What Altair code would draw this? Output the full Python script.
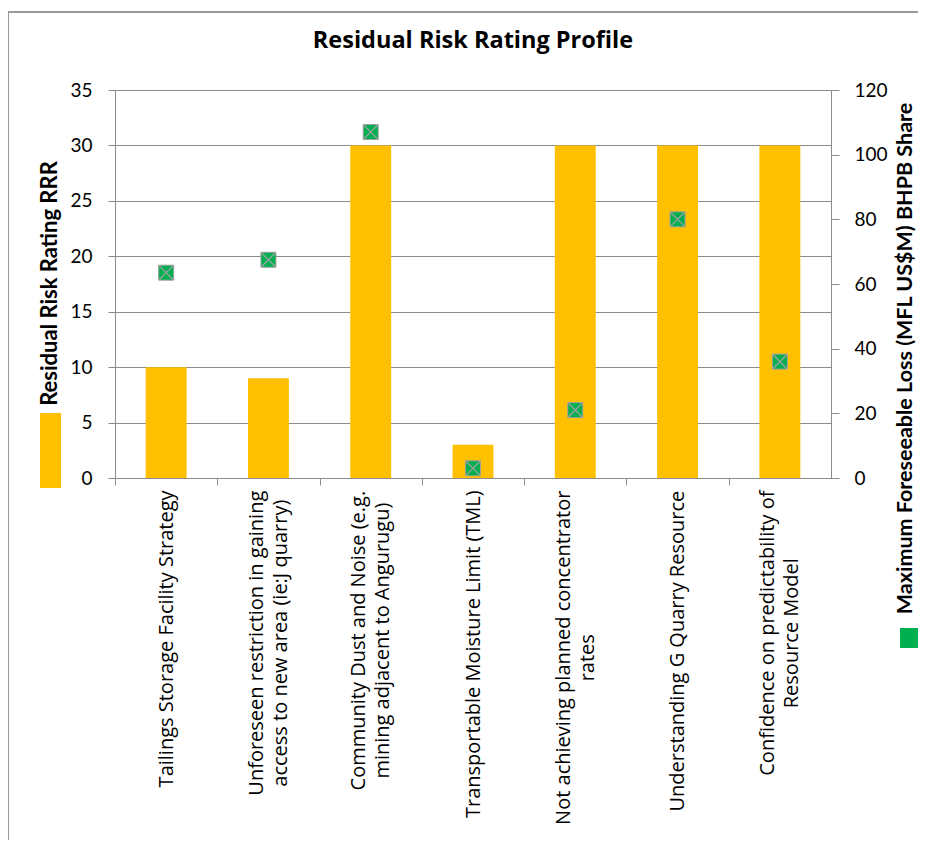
import json
import altair as alt
import pandas as pd

categories = [
    "Tailings Storage Facility Strategy",
    "Unforeseen restriction in gaining\naccess to new area (ie:J quarry)",
    "Community Dust and Noise (e.g.\nmining adjacent to Angurugu)",
    "Transportable Moisture Limit (TML)",
    "Not achieving planned concentrator\nrates",
    "Understanding G Quarry Resource",
    "Confidence on predictability of\nResource Model",
]
rrr = [10, 9, 30, 3, 30, 30, 30]
mfl = [63.5, 67.5, 107, 3, 21, 80, 36]

left_ticks = [0, 5, 10, 15, 20, 25, 30, 35]
right_ticks = [0, 20, 40, 60, 80, 100, 120]

df = pd.DataFrame({"risk": categories, "rrr": rrr, "mfl": mfl})
one = alt.Data(values=[{"k": 1}])

FONT = "Lato"
BOLD_FONT = "Open Sans"
LABEL_FONT = "Open Sans"
LABEL_SIZE = 20
GREY = "#8c8c8c"
W, H = 716, 388
step = W / len(categories)

# approximate Open Sans advance widths (em), used only to place the centred, wrapped labels
_w = {" ": .26, "(": .295, ")": .295, ".": .266, ":": .266, "a": .556, "b": .613, "c": .476,
      "d": .613, "e": .561, "f": .339, "g": .548, "h": .614, "i": .253, "j": .253, "k": .525,
      "l": .253, "m": .93, "n": .614, "o": .604, "p": .613, "q": .613, "r": .408, "s": .477,
      "t": .353, "u": .614, "v": .501, "w": .778, "x": .524, "y": .502, "z": .477,
      "A": .633, "B": .65, "C": .631, "D": .722, "E": .556, "F": .5, "G": .728, "H": .75,
      "I": .28, "J": .273, "L": .52, "M": .89, "N": .76, "O": .78, "P": .6, "Q": .78,
      "R": .623, "S": .55, "T": .55, "U": .738}


def label_width(label):
    return max(sum(_w.get(ch, .58) for ch in line) for line in label.split("\n")) * LABEL_SIZE


BASE_PAD = 5
pad_rules = [
    {"test": "datum.value == " + json.dumps(c), "value": BASE_PAD + label_width(c) / 2}
    for c in categories
]

x_enc = alt.X(
    "risk:N", sort=categories,
    scale=alt.Scale(paddingInner=0.6, paddingOuter=0.3),
    axis=alt.Axis(
        title=None, labelAngle=270, labelExpr="split(datum.label, '\\n')",
        labelAlign="center", labelBaseline="middle",
        labelFont=LABEL_FONT, labelFontSize=LABEL_SIZE, labelColor="black", labelLineHeight=24,
        labelLimit=600, tickOffset=-step / 2,
        labelOffset={"condition": {"test": "indexof(datum.value, '\\n') >= 0",
                                   "value": step / 2 - 12},
                     "value": step / 2},
        labelPadding={"condition": pad_rules, "value": BASE_PAD},
        tickSize=7, tickColor=GREY, domainColor=GREY,
    ),
)

bars = alt.Chart(df).mark_bar(color="#FFC000").encode(
    x=x_enc,
    y=alt.Y(
        "rrr:Q", scale=alt.Scale(domain=[0, 35]),
        axis=alt.Axis(
            values=left_ticks, grid=True, gridColor=GREY, tickColor=GREY, domainColor=GREY,
            tickSize=7, labelPadding=16, labelFont=FONT, labelFontSize=19, labelColor="black",
            title="Residual Risk Rating RRR", titleFont=FONT, titleFontSize=22,
            titleFontWeight="bold", titleColor="black", titleAngle=270,
            titleX=-66, titleY=193, titleAlign="center", titleBaseline="middle",
        ),
    ),
)

y_right = alt.Y(
    "mfl:Q", scale=alt.Scale(domain=[0, 120]),
    axis=alt.Axis(
        orient="right", values=right_ticks, grid=False, tickColor=GREY, domainColor=GREY,
        tickSize=8, labelPadding=15, labelFont=FONT, labelFontSize=19, labelColor="black",
        title="Maximum Foreseeable Loss (MFL US$M) BHPB Share", titleFont=FONT,
        titleFontSize=21.5, titleFontWeight="bold", titleColor="black", titleAngle=270,
        titleX=74, titleY=268, titleAlign="center", titleBaseline="middle",
    ),
)

sq = alt.Chart(df).mark_point(
    shape="square", filled=True, size=225, color="#00B050", stroke="#a0a0a0",
    strokeWidth=1, opacity=1,
).encode(x=alt.X("risk:N", sort=categories), y=y_right)

xm = alt.Chart(df).mark_point(
    shape="M-1,-1L1,1M-1,1L1,-1", filled=False, size=200, color="#a0a0a0",
    strokeWidth=1.3, opacity=1,
).encode(x=alt.X("risk:N", sort=categories), y=y_right)

points = alt.layer(sq, xm)

border = alt.Chart(one).mark_rect(fillOpacity=0, stroke="#999999", strokeWidth=2).encode(
    x=alt.value(-107), x2=alt.value(2000), y=alt.value(-78), y2=alt.value(2000)
)
title = alt.Chart(one).mark_text(
    text="Residual Risk Rating Profile", font=BOLD_FONT, fontSize=23.5, fontWeight="bold",
    color="black", align="center", baseline="alphabetic",
).encode(x=alt.value(W / 2), y=alt.value(-42))
sw_left = alt.Chart(one).mark_rect(color="#FFC000").encode(
    x=alt.value(-75), x2=alt.value(-54), y=alt.value(323), y2=alt.value(398)
)
sw_right = alt.Chart(one).mark_rect(color="#00B050").encode(
    x=alt.value(785), x2=alt.value(803), y=alt.value(538), y2=alt.value(558)
)

chart = alt.layer(border, title, bars, points, sw_left, sw_right).resolve_scale(
    y="independent"
).properties(
    width=W, height=H,
    autosize=alt.AutoSizeParams(type="none"),
    padding={"left": 107, "top": 82, "right": 87, "bottom": 362},
).configure_view(stroke=None).configure(background="white")

chart.save("out.html", embed_options={"renderer": "svg", "actions": False})
